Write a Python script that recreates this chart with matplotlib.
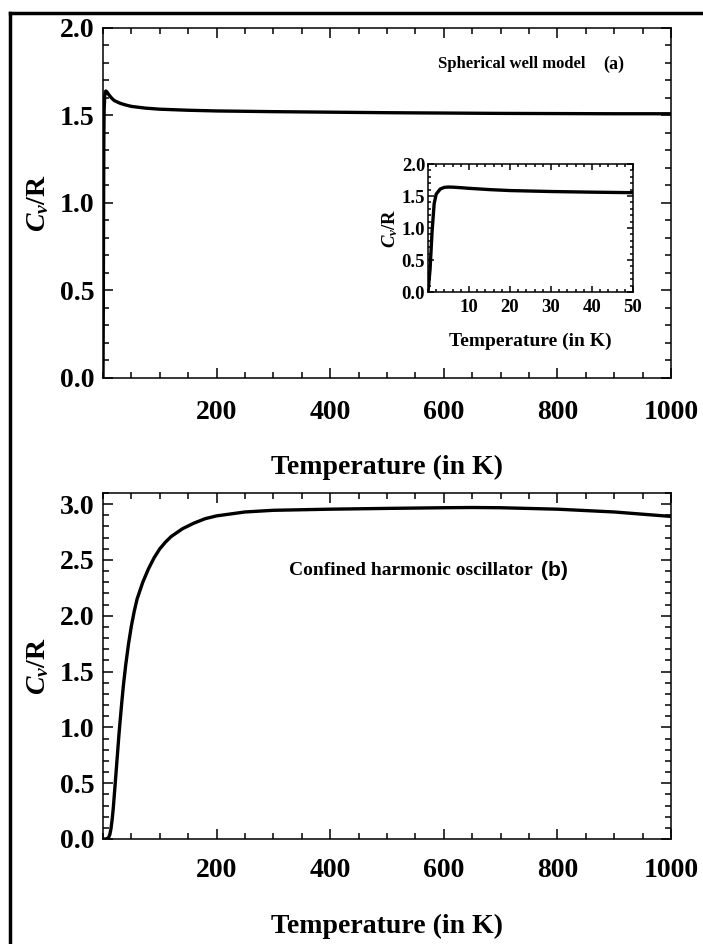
import matplotlib
matplotlib.use("Agg")
import matplotlib.pyplot as plt
from matplotlib.ticker import MultipleLocator
from matplotlib.lines import Line2D

plt.rcParams["font.family"] = "Liberation Serif"
plt.rcParams["font.weight"] = "bold"
plt.rcParams["mathtext.fontset"] = "custom"
plt.rcParams["mathtext.it"] = "Liberation Serif:italic:bold"
plt.rcParams["mathtext.rm"] = "Liberation Serif:bold"

# (a) spherical well model, Cv/R vs temperature
temp_a = [0, 0.5, 1, 1.5, 2, 3, 4, 5, 6, 8, 10, 15, 20, 30, 40, 50,
          75, 100, 150, 200, 300, 400, 500, 600, 700, 800, 900, 1000]
cv_a = [0, 0.35, 0.95, 1.38, 1.53, 1.61, 1.635, 1.64, 1.638, 1.63, 1.62,
        1.60, 1.585, 1.57, 1.56, 1.552, 1.542, 1.536, 1.53, 1.526, 1.522,
        1.519, 1.516, 1.514, 1.512, 1.511, 1.51, 1.51]

# (b) confined harmonic oscillator
temp_b = [0, 5, 8, 10, 12, 14, 16, 18, 20, 22, 25, 28, 30, 33, 36, 40, 45,
          50, 55, 60, 70, 80, 90, 100, 110, 120, 140, 160, 180, 200, 250,
          300, 400, 500, 600, 650, 700, 800, 900, 1000]
cv_b = [0, 0, 0.005, 0.015, 0.04, 0.09, 0.17, 0.27, 0.4, 0.53, 0.73, 0.93,
        1.05, 1.22, 1.38, 1.56, 1.75, 1.91, 2.04, 2.15, 2.3, 2.42, 2.52, 2.6,
        2.66, 2.71, 2.78, 2.83, 2.87, 2.895, 2.93, 2.945, 2.955, 2.962,
        2.968, 2.97, 2.968, 2.955, 2.93, 2.89]

xticks_main = [200, 400, 600, 800, 1000]


def style(ax, fs, xmaj, xmin, ymaj, ymin, pad):
    for s in ax.spines.values():
        s.set_linewidth(1.1)
    ax.xaxis.set_major_locator(MultipleLocator(xmaj))
    ax.xaxis.set_minor_locator(MultipleLocator(xmin))
    ax.yaxis.set_major_locator(MultipleLocator(ymaj))
    ax.yaxis.set_minor_locator(MultipleLocator(ymin))
    ax.tick_params(which="both", direction="in", top=True, right=True, width=1.1)
    ax.tick_params(which="major", length=7)
    ax.tick_params(which="minor", length=4)
    ax.tick_params(axis="x", labelsize=fs, pad=pad)
    ax.tick_params(axis="y", labelsize=fs, pad=6)


fig = plt.figure(figsize=(7.03, 9.44), dpi=100)

# outer frame (only left and top visible)
fig.add_artist(Line2D([10 / 703, 10 / 703], [0, 1 - 13 / 944], color="black",
                      lw=2.5, transform=fig.transFigure))
fig.add_artist(Line2D([10 / 703, 1], [1 - 13 / 944, 1 - 13 / 944], color="black",
                      lw=2.5, transform=fig.transFigure))

ax1 = fig.add_axes([103 / 703, 1 - 378 / 944, 568 / 703, 350 / 944])
ax1.plot(temp_a, cv_a, color="black", lw=2.4)
ax1.set_xlim(0, 1000)
ax1.set_ylim(0, 2.0)
style(ax1, 20, 200, 50, 0.5, 0.1, 16)
ax1.set_xticks(xticks_main)
ax1.set_xticklabels([str(t) for t in xticks_main])
ax1.set_yticks([0.0, 0.5, 1.0, 1.5, 2.0])
ax1.set_yticklabels(["0.0", "0.5", "1.0", "1.5", "2.0"])
ax1.set_xlabel("Temperature (in K)", fontsize=20, fontweight="bold", labelpad=21)
ax1.set_ylabel("$C_v$/R", fontsize=20, fontweight="bold", labelpad=6)
ax1.text(0.849, 0.897, "Spherical well model", transform=ax1.transAxes,
         fontsize=12, fontweight="bold", ha="right", va="center")
ax1.text(0.880, 0.897, "(a)", transform=ax1.transAxes,
         fontsize=13, fontweight="bold", ha="left", va="center")

ax_in = fig.add_axes([428 / 703, 1 - 292 / 944, 205 / 703, 128 / 944])
ax_in.plot(temp_a, cv_a, color="black", lw=2.4)
ax_in.set_xlim(0, 50)
ax_in.set_ylim(0, 2.0)
style(ax_in, 13.5, 10, 2, 0.5, 0.1, 5)
ax_in.tick_params(axis="y", pad=2)
ax_in.tick_params(which="major", length=4)
ax_in.tick_params(which="minor", length=2.5)
ax_in.set_xticks([10, 20, 30, 40, 50])
ax_in.set_xticklabels(["10", "20", "30", "40", "50"])
ax_in.set_yticks([0.0, 0.5, 1.0, 1.5, 2.0])
ax_in.set_yticklabels(["0.0", "0.5", "1.0", "1.5", "2.0"])
ax_in.set_xlabel("Temperature (in K)", fontsize=14, fontweight="bold", labelpad=12)
ax_in.set_ylabel("$C_v$/R", fontsize=13.5, fontweight="bold", labelpad=1)

ax2 = fig.add_axes([103 / 703, 1 - 839 / 944, 568 / 703, 346 / 944])
ax2.plot(temp_b, cv_b, color="black", lw=2.4)
ax2.set_xlim(0, 1000)
ax2.set_ylim(0, 3.1)
style(ax2, 20, 200, 50, 0.5, 0.1, 14)
ax2.set_xticks(xticks_main)
ax2.set_xticklabels([str(t) for t in xticks_main])
ax2.set_yticks([0.0, 0.5, 1.0, 1.5, 2.0, 2.5, 3.0])
ax2.set_yticklabels(["0.0", "0.5", "1.0", "1.5", "2.0", "2.5", "3.0"])
ax2.set_xlabel("Temperature (in K)", fontsize=20, fontweight="bold", labelpad=22)
ax2.set_ylabel("$C_v$/R", fontsize=20, fontweight="bold", labelpad=6)
ax2.text(0.757, 0.775, "Confined harmonic oscillator", transform=ax2.transAxes,
         fontsize=14, fontweight="bold", ha="right", va="center")
ax2.text(0.771, 0.775, "(b)", transform=ax2.transAxes, family="Liberation Sans",
         fontsize=15, fontweight="bold", ha="left", va="center")

fig.savefig("out.png", dpi=100)
